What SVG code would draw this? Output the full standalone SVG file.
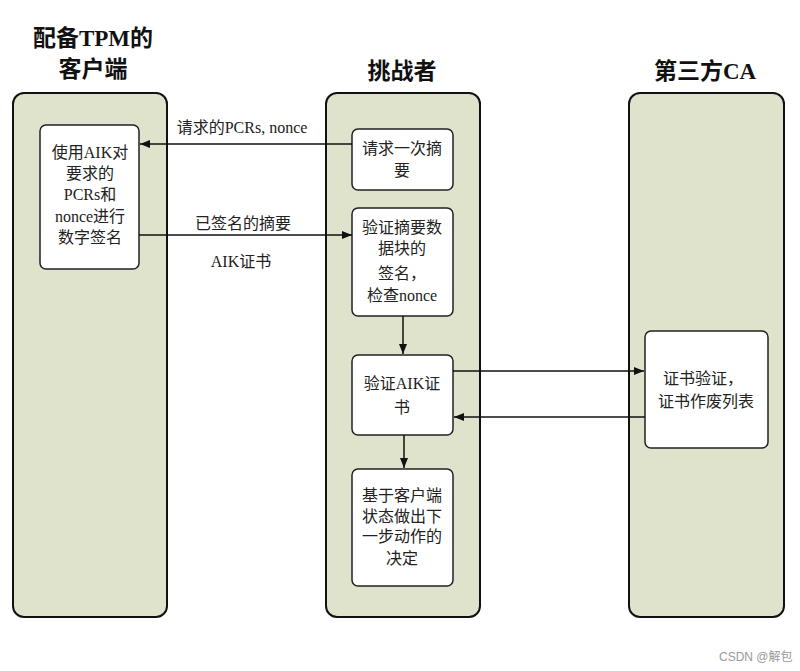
<svg xmlns="http://www.w3.org/2000/svg" width="800" height="671" viewBox="0 0 800 671">
<style>
.lane{fill:#dfe3cc;stroke:#111;stroke-width:2}
.box{fill:#fff;stroke:#222;stroke-width:1.5}
.hdr{font-family:"Noto Sans CJK SC",sans-serif;font-weight:bold;font-size:23px;fill:#111;text-anchor:middle}
.lat{font-family:"Liberation Serif","DejaVu Serif",serif;font-weight:bold}
.t{font-family:"Liberation Serif","Noto Sans CJK SC",serif;font-size:16px;fill:#222;text-anchor:middle}
.lbl{font-family:"Liberation Serif","Noto Sans CJK SC",serif;font-size:16px;fill:#222;text-anchor:middle}
.ln{stroke:#111;stroke-width:1.5;fill:none;marker-end:url(#ah)}
.wm{font-family:"Liberation Sans","Noto Sans CJK SC",sans-serif;font-size:12px;fill:#999}
</style>
<defs>
<marker id="ah" viewBox="0 0 10 10" refX="10" refY="5" markerWidth="10" markerHeight="10" markerUnits="userSpaceOnUse" orient="auto">
<path d="M0,1 L10,5 L0,9 Z" fill="#111"/>
</marker>
</defs>
<rect width="800" height="671" fill="#fff"/>
<g id="lane-client">
<rect class="lane" x="13" y="93" width="154" height="524" rx="11"/>
<text class="hdr" x="93" y="46">配备<tspan class="lat">TPM</tspan>的</text>
<text class="hdr" x="93" y="77">客户端</text>
</g>
<g id="lane-challenger">
<rect class="lane" x="326" y="93" width="154" height="524" rx="11"/>
<text class="hdr" x="402" y="79">挑战者</text>
</g>
<g id="lane-ca">
<rect class="lane" x="629" y="93" width="155" height="524" rx="11"/>
<text class="hdr" x="705" y="79">第三方<tspan class="lat">CA</tspan></text>
</g>
<g id="node-sign">
<rect class="box" x="40" y="125" width="99" height="144" rx="6"/>
<text class="t" x="90" y="158">使用AIK对</text>
<text class="t" x="90" y="179">要求的</text>
<text class="t" x="90" y="200">PCRs和</text>
<text class="t" x="90" y="222">nonce进行</text>
<text class="t" x="90" y="243">数字签名</text>
</g>
<g id="node-request">
<rect class="box" x="352" y="129" width="101" height="61" rx="6"/>
<text class="t" x="402" y="154">请求一次摘</text>
<text class="t" x="402" y="176">要</text>
</g>
<g id="node-verify-digest">
<rect class="box" x="352" y="208" width="101" height="108" rx="6"/>
<text class="t" x="402" y="233">验证摘要数</text>
<text class="t" x="402" y="254">据块的</text>
<text class="t" x="402" y="279">签名，</text>
<text class="t" x="402" y="301">检查nonce</text>
</g>
<g id="node-verify-aik">
<rect class="box" x="352" y="355" width="101" height="80" rx="6"/>
<text class="t" x="402" y="389">验证AIK证</text>
<text class="t" x="402" y="413">书</text>
</g>
<g id="node-decide">
<rect class="box" x="352" y="469" width="101" height="117" rx="6"/>
<text class="t" x="402" y="501">基于客户端</text>
<text class="t" x="402" y="522">状态做出下</text>
<text class="t" x="402" y="542">一步动作的</text>
<text class="t" x="402" y="564">决定</text>
</g>
<g id="node-ca-check">
<rect class="box" x="645" y="331" width="123" height="117" rx="6"/>
<text class="t" x="703" y="384">证书验证，</text>
<text class="t" x="706" y="407">证书作废列表</text>
</g>
<g id="connectors">
<line class="ln" x1="352" y1="144" x2="140" y2="144"/>
<text class="lbl" x="242" y="133">请求的PCRs, nonce</text>
<line class="ln" x1="139" y1="235" x2="352" y2="235"/>
<text class="lbl" x="243" y="229">已签名的摘要</text>
<text class="lbl" x="241" y="267">AIK证书</text>
<line class="ln" x1="403" y1="316" x2="403" y2="354"/>
<line class="ln" x1="404" y1="435" x2="404" y2="468"/>
<line class="ln" x1="453" y1="371" x2="644" y2="371"/>
<line class="ln" x1="645" y1="417" x2="454" y2="417"/>
</g>
<text class="wm" x="719" y="661">CSDN @解包</text>
</svg>
